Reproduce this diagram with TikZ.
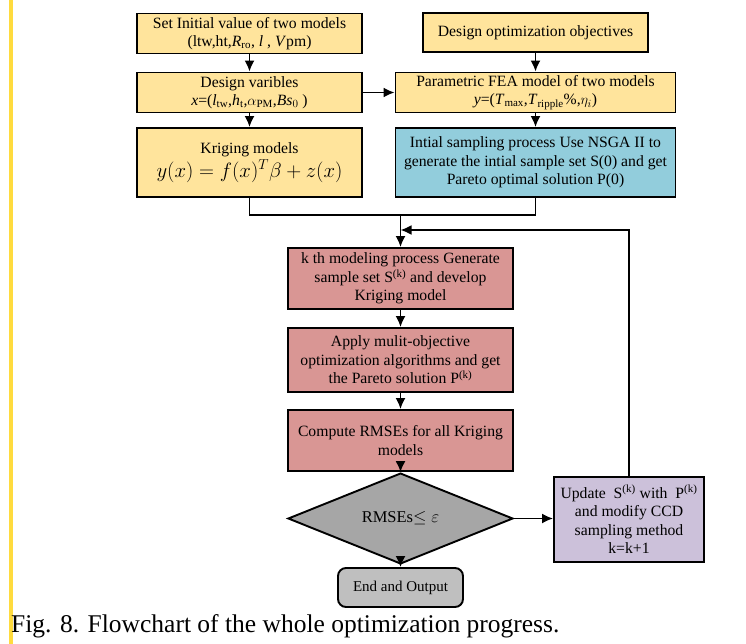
\documentclass[tikz,border=0pt]{standalone}
\usepackage{amsmath}
\usepackage{fontspec}
\setmainfont{Liberation Serif}
\usepackage{tikz}
\usetikzlibrary{shapes.geometric,positioning,calc,arrows.meta}
\definecolor{colorin}{HTML}{FFE49C}
\definecolor{colorsp}{HTML}{92CDDC}
\definecolor{colorkg}{HTML}{D99694}
\definecolor{colorup}{HTML}{CCC1DA}
\definecolor{colorck}{HTML}{A6A6A6}
\definecolor{colorend}{HTML}{BFBFBF}
\definecolor{colorbar}{HTML}{FFDB3E}
\tikzset{
  boxbase/.style={draw=black, line width=1.9pt, align=center, inner sep=1pt,
    font=\fontsize{15.7}{18.5}\selectfont},
  boxin/.style={boxbase, fill=colorin},
  boxsp/.style={boxbase, fill=colorsp},
  boxkg/.style={boxbase, fill=colorkg},
  boxup/.style={boxbase, fill=colorup},
  boxck/.style={boxbase, fill=colorck, shape=diamond, inner sep=0pt,
    font=\fontsize{16.5}{19}\selectfont},
  boxend/.style={boxbase, fill=colorend, rounded corners=8pt,
    font=\fontsize{15}{17}\selectfont},
  edgeline/.style={black, line width=1.8pt},
  edgeflow/.style={edgeline, -{Latex[length=11pt,width=10pt]}}
}
\newcommand\sk{\textsuperscript{(k)}}

\begin{document}
\begin{tikzpicture}[x=1pt, y=-1pt]
\useasboundingbox[fill=white] (0,0) rectangle (746,644);
\fill[colorbar] (8.5,0) rectangle (13,644);
% top inputs
\node[boxin, minimum width=225, minimum height=40] (setinit) at (249.5,33.5)
  {Set Initial value of two models\\(ltw,ht,\textit{R}\textsubscript{ro}, \textit{l} , \textit{V}pm)};
\node[boxin, minimum width=225, minimum height=39] (desobj) at (535.5,32.5)
  {Design optimization objectives};
\node[boxin, minimum width=225, minimum height=40] (desvar) at (249.5,92.5)
  {Design varibles\\\textit{x}=(\textit{l}\textsubscript{tw},\textit{h}\textsubscript{t},$\alpha$\textsubscript{PM},\textit{Bs}$_0$~)};
\node[boxin, minimum width=280, minimum height=40] (feamodel) at (535.5,92.5)
  {Parametric FEA model of two models\\\textit{y}=(\textit{T}\textsubscript{max},\textit{T}\textsubscript{ripple}\%,$\eta_i$)};
\node[boxin, minimum width=225, minimum height=69] (krigmod) at (249.5,162.5)
  {Kriging models\\[2pt]{\fontsize{19.5}{22}\selectfont$y(x)=f(x)^T\beta+z(x)$}};
\node[boxsp, minimum width=280, minimum height=69] (initsamp) at (535.5,162.5)
  {Intial sampling process Use NSGA II to\\generate the intial sample set S(0) and get\\Pareto optimal solution P(0)};
% main loop
\node[boxkg, minimum width=225, minimum height=61] (kthmodel) at (400.5,278.5)
  {k th modeling process Generate\\sample set S\sk{} and develop\\Kriging model};
\node[boxkg, minimum width=225, minimum height=64] (applymo) at (400.5,360)
  {Apply mulit-objective\\optimization algorithms and get\\the Pareto solution P\sk};
\node[boxkg, minimum width=225, minimum height=61] (rmse) at (400.5,440.5)
  {Compute RMSEs for all Kriging\\models};
\node[boxck, minimum width=225, minimum height=59] (check) at (400.5,518.5)
  {RMSEs$\leq\varepsilon$};
\node[boxup, minimum width=150, minimum height=85] (update) at (629,519.5)
  {Update~ S\sk{} with~ P\sk\\and modify CCD\\sampling method\\k=k+1};
\node[boxend, minimum width=125, minimum height=39] (endout) at (400.5,587.5)
  {End and Output};
\node[anchor=base west, inner sep=0pt, font=\fontsize{25.5}{30}\selectfont] (caption) at (11,632)
  {Fig. 8. Flowchart of the whole optimization progress.};
% connectors
\coordinate (merge) at (400.5,215);
\coordinate (loopin) at (400.5,230);
\draw[edgeflow] (setinit) -- (desvar);
\draw[edgeflow] (desobj) -- (feamodel);
\draw[edgeflow] (desvar) -- (feamodel);
\draw[edgeflow] (desvar) -- (krigmod);
\draw[edgeflow] (feamodel) -- (initsamp);
\draw[edgeline] (krigmod.south) |- (merge);
\draw[edgeline] (initsamp.south) |- (merge);
\draw[edgeflow] (merge) -- (kthmodel);
\draw[edgeflow] (update.north) |- (loopin);
\draw[edgeflow] (kthmodel) -- (applymo);
\draw[edgeflow] (applymo) -- (rmse);
\draw[edgeflow] (rmse) -- (check);
\draw[edgeflow] (check.east) -- (check.east -| update.west);
\draw[edgeflow] (check) -- (endout);
\end{tikzpicture}
\end{document}
